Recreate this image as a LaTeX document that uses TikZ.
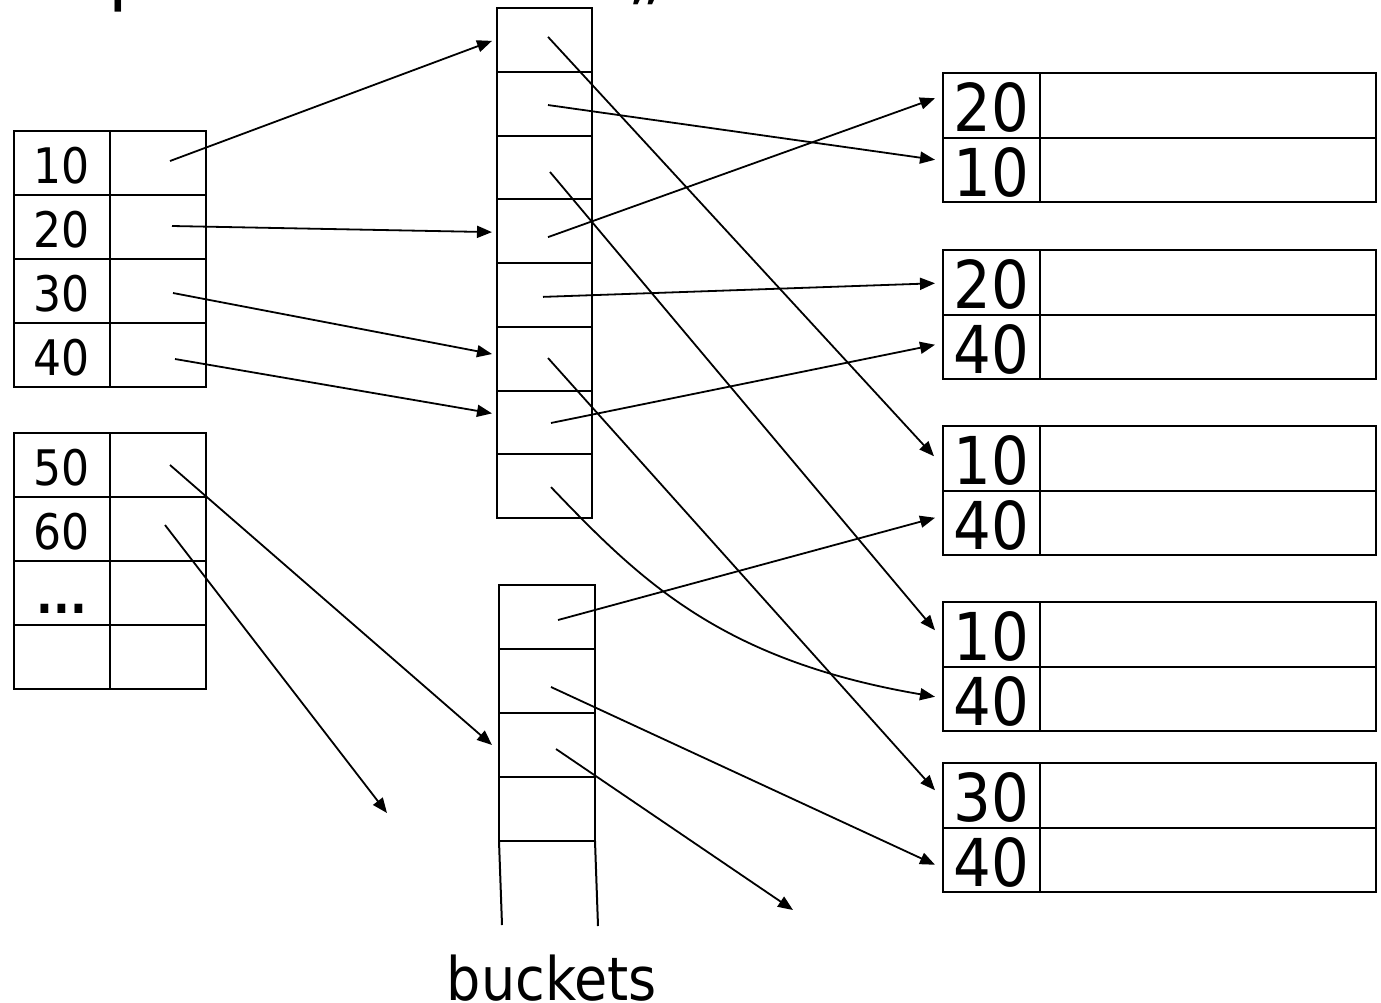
\documentclass[tikz,border=0pt]{standalone}
\usepackage{fontspec}
\setmainfont{DejaVu Sans}[FakeStretch=0.9]
\usetikzlibrary{arrows.meta,calc}
\begin{document}
\begin{tikzpicture}[x=1pt,y=-1pt,
  cell/.style={draw,line width=2pt,inner sep=0pt,outer sep=0pt,anchor=north west,minimum height=64pt},
  lkey/.style={cell,minimum width=96pt,font=\fontsize{49}{49}\selectfont,text height=40pt,text depth=0pt},
  lptr/.style={cell,minimum width=96pt},
  bcell/.style={cell,minimum width=95pt,minimum height=63.75pt},
  ccell/.style={cell,minimum width=96pt},
  rkey/.style={cell,minimum width=97pt,minimum height=64.5pt,font=\fontsize{66}{66}\selectfont,text height=52.5pt,text depth=0pt},
  rval/.style={cell,minimum width=336pt,minimum height=64.5pt},
  conn/.style={line width=1.8pt,-{Triangle[length=15pt,width=12pt]}},
  openline/.style={line width=2pt},
  title/.style={font=\fontsize{80}{80}\selectfont,anchor=base west,inner sep=0pt},
  lbl/.style={font=\fontsize{60}{60}\selectfont,anchor=base,inner sep=0pt}
]
\useasboundingbox (0,0) rectangle (1381,1002);
\clip (0,0) rectangle (1381,1002);

% cut-off title fragments
\node[title] (tp) at (108,-4.5) {p};
\node[title] (tq) at (627,-4.5) {„};

% left table 1
\foreach \k [count=\i] in {10,20,30,40} {
  \node[lkey] (t1k\i) at (14,{131+64*(\i-1)}) {\k};
  \node[lptr] (t1p\i) at (110,{131+64*(\i-1)}) {};
}
% left table 2
\node[lkey] (t2k1) at (14,433) {50};
\node[lptr] (t2p1) at (110,433) {};
\node[lkey] (t2k2) at (14,497) {60};
\node[lptr] (t2p2) at (110,497) {};
\node[lkey] (t2k3) at (14,561) {\bfseries ...};
\node[lptr] (t2p3) at (110,561) {};
\node[lkey] (t2k4) at (14,625) {};
\node[lptr] (t2p4) at (110,625) {};

% main bucket column
\foreach \i in {1,...,8} {
  \node[bcell] (b\i) at (497,{8+63.75*(\i-1)}) {};
}
% second bucket column
\foreach \i in {1,...,4} {
  \node[ccell] (c\i) at (499,{585+64*(\i-1)}) {};
}
\coordinate (cl) at (502,925);
\coordinate (cr) at (598,926);
\draw[openline] (c4.south west) -- (cl);
\draw[openline] (c4.south east) -- (cr);
\node[lbl] (buckets) at (552,1000) {buckets};

% right records
\foreach \t/\ka/\kb [count=\i] in {73/20/10,250/20/40,426/10/40,602/10/40,763/30/40} {
  \node[rkey] (ra\i) at (943,\t) {\ka};
  \node[rval] (va\i) at (1040,\t) {};
  \node[rkey] (rb\i) at (943,{\t+64.5}) {\kb};
  \node[rval] (vb\i) at (1040,{\t+64.5}) {};
}

% free ends
\coordinate (f60) at (387,813);
\coordinate (fc3) at (793,910);

% connectors from left tables
\draw[conn] ($(t1p1.center)+(12,-2)$) -- ($(b1.west)+(-5,1)$);
\draw[conn] ($(t1p2.center)+(14,-1)$) -- ($(b4.west)+(-5,1)$);
\draw[conn] ($(t1p3.center)+(15,2)$) -- ($(b6.west)+(-5,-4.6)$);
\draw[conn] ($(t1p4.center)+(17,4)$) -- ($(b7.west)+(-5,-9)$);
\draw[conn] ($(t2p1.center)+(12,0)$) -- ($(c3.west)+(-7,0)$);
\draw[conn] ($(t2p2.center)+(7,-4)$) -- (f60);

% connectors from main bucket column
\draw[conn] ($(b1.center)+(3.5,-3)$) -- ($(ra3.west)+(-9,-2)$);
\draw[conn] ($(b2.center)+(3.5,1.4)$) -- ($(rb1.west)+(-8,-10)$);
\draw[conn] ($(b3.center)+(5.5,4.6)$) -- ($(ra4.west)+(-8,-4)$);
\draw[conn] ($(b4.center)+(3.5,6)$) -- ($(ra1.west)+(-8,-7)$);
\draw[conn] ($(b5.center)+(-1.5,2)$) -- ($(ra2.west)+(-8,1)$);
\draw[conn] ($(b6.center)+(3.5,-0.6)$) -- ($(ra5.west)+(-8,-5)$);
\draw[conn] ($(b7.center)+(6.5,0.6)$) -- ($(rb2.west)+(-8,-2)$);
\coordinate (k1) at (640,580);
\coordinate (k2) at (720,660);
\draw[conn] ($(b8.center)+(6.5,1)$) .. controls (k1) and (k2) .. ($(rb4.west)+(-8,-2)$);

% connectors from second bucket column
\draw[conn] ($(c1.center)+(11,3)$) -- ($(rb3.west)+(-8,-5)$);
\draw[conn] ($(c2.center)+(4,6)$) -- ($(rb5.west)+(-8,5)$);
\draw[conn] ($(c3.center)+(9,4)$) -- (fc3);
\end{tikzpicture}
\end{document}
